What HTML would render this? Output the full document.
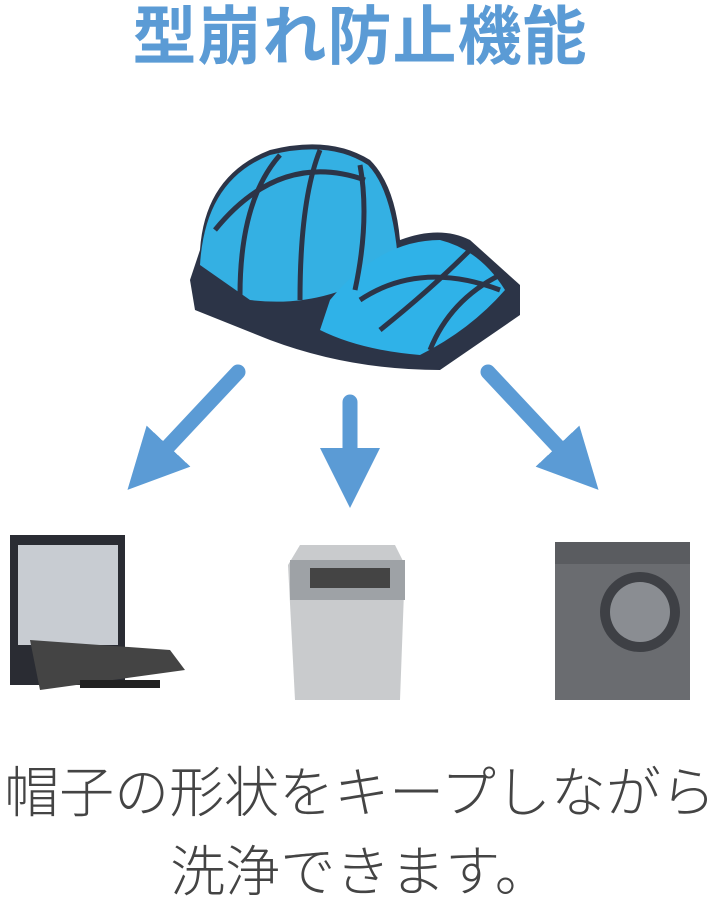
<!DOCTYPE html>
<html><head><meta charset="utf-8"><style>
html,body{margin:0;padding:0;background:#fff;width:720px;height:900px;overflow:hidden}
.t{position:absolute;left:0;width:720px;text-align:center;font-family:"Liberation Sans","Noto Sans CJK JP",sans-serif}
</style></head><body>
<div class="t" style="top:-3px;font-size:64px;font-weight:bold;color:#5b9bd5;line-height:80px;letter-spacing:1px">型崩れ防止機能</div>
<svg width="720" height="900" style="position:absolute;left:0;top:0">
<defs><marker id="a" markerWidth="4" markerHeight="4" refX="2" refY="2" orient="auto" markerUnits="strokeWidth"><path d="M0,0 L4,2 L0,4 Z" fill="#5b9bd5"/></marker></defs>
<path d="M190,280 L200,250 Q205,175 270,150 Q330,135 370,160 Q395,185 400,240 Q440,225 470,240 L520,285 L520,315 L440,370 Q350,370 270,340 L195,310 Z" fill="#2c3447"/>
<path d="M200,265 Q205,180 270,155 Q330,140 368,165 Q392,190 398,260 Q330,310 250,300 Z" fill="#34b0e3"/>
<path d="M330,300 Q380,240 440,240 Q480,250 505,290 Q470,330 420,355 Q360,350 320,330 Z" fill="#2fb2e8"/>
<g stroke="#2c3447" stroke-width="5" fill="none">
<path d="M215,230 Q280,150 365,180"/><path d="M240,295 Q240,200 280,155"/><path d="M300,300 Q300,200 320,150"/><path d="M355,290 Q370,220 360,165"/>
<path d="M360,300 Q420,260 500,290"/><path d="M380,330 Q430,290 470,250"/><path d="M430,350 Q450,300 500,275"/>
</g>
<g stroke="#5b9bd5" stroke-width="15" marker-end="url(#a)" stroke-linecap="round">
<line x1="238" y1="372" x2="148" y2="468"/>
<line x1="350" y1="402" x2="350" y2="478"/>
<line x1="488" y1="372" x2="578" y2="468"/>
</g>
<rect x="10" y="535" width="115" height="150" fill="#2a2c33"/>
<rect x="18" y="545" width="100" height="100" fill="#c8ccd2"/>
<path d="M30,640 L170,650 L185,670 L40,690 Z" fill="#444"/>
<rect x="80" y="680" width="80" height="8" fill="#222"/>
<path d="M300,545 L395,545 L405,565 L400,700 L295,700 L288,565 Z" fill="#c9cbcd"/>
<rect x="290" y="560" width="115" height="40" fill="#9ea2a6"/>
<rect x="310" y="568" width="80" height="20" fill="#444"/>
<rect x="555" y="542" width="135" height="158" fill="#6a6c70"/>
<rect x="555" y="542" width="135" height="22" fill="#5a5c60"/>
<circle cx="640" cy="612" r="40" fill="#3e4045"/>
<circle cx="640" cy="612" r="30" fill="#8a8d92"/>
</svg>
<div class="t" style="top:753px;font-size:55px;color:#444;line-height:80px;font-weight:300">帽子の形状をキープしながら</div>
<div class="t" style="top:832px;font-size:55px;color:#444;line-height:80px;font-weight:300">洗浄できます。</div>
</body></html>
